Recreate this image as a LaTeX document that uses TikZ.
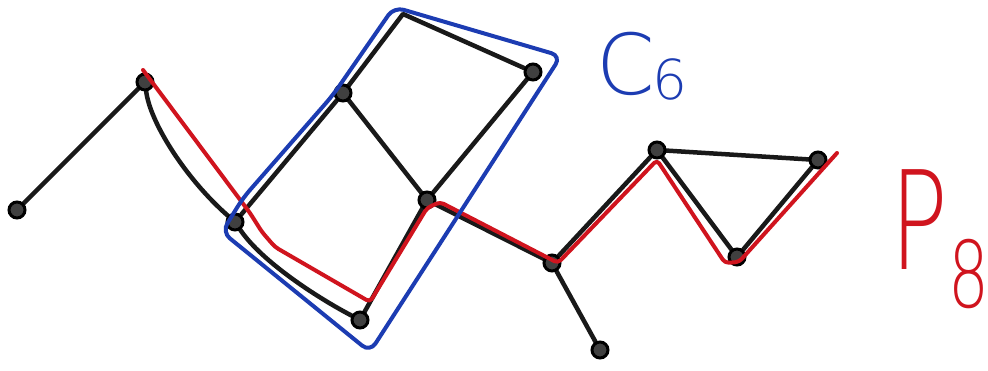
\documentclass[tikz,border=0pt]{standalone}
\usepackage{fontspec}
\usepackage{graphicx}
\IfFontExistsTF{DejaVu Sans ExtraLight}{\newfontfamily\hand{DejaVu Sans ExtraLight}}{\newfontfamily\hand{DejaVu Sans}}
\usetikzlibrary{calc}
\pgfdeclarelayer{bg}
\pgfsetlayers{bg,main}
\definecolor{pred}{HTML}{D0141E}
\definecolor{cblue}{HTML}{1C3CB2}
\begin{document}
\begin{tikzpicture}[x=1pt,y=-1pt,
  edge/.style={line width=4.5pt, black!90, line cap=round, line join=round},
  vtx/.style={circle, draw=black, line width=3pt, fill=black!75, minimum size=16pt, inner sep=0pt},
  redpath/.style={line width=4pt, pred, line cap=round, line join=round, rounded corners=4pt},
  bluebox/.style={line width=4pt, cblue, rounded corners=10pt, line join=round},
  lbl/.style={inner sep=0pt, anchor=base west}]
\useasboundingbox (0,0) rectangle (988,371);
\node[vtx] (A) at (17,210) {};
\node[vtx] (B) at (145,82) {};
\node[vtx] (C) at (235,222) {};
\node[vtx] (D) at (343,93) {};
\coordinate (T) at (403,14);
\node[vtx] (E) at (533,72) {};
\node[vtx] (F) at (427,200) {};
\node[vtx] (G) at (360,320) {};
\node[vtx] (H) at (552,263) {};
\node[vtx] (I) at (600,350) {};
\node[vtx] (J) at (657,150) {};
\node[vtx] (K) at (818,160) {};
\node[vtx] (L) at (737,257) {};
\begin{pgfonlayer}{bg}
\draw[edge] (A) -- (B);
\draw[edge] (B) .. controls (150,122) and (185,178) .. (C);
\draw[edge] (C) -- (D);
\draw[edge] (D) -- (T) -- (E);
\draw[edge] (E) -- (F);
\draw[edge] (D) -- (F);
\draw[edge] (F) -- (G);
\draw[edge] (C) .. controls (262,262) and (318,298) .. (G);
\draw[edge] (F) -- (H);
\draw[edge] (H) -- (I);
\draw[edge] (H) -- (J);
\draw[edge] (J) -- (K);
\draw[edge] (J) -- (L);
\draw[edge] (L) -- (K);
\end{pgfonlayer}
% red path P8
\draw[redpath] ($(B)+(-2,-12)$) -- ($(C)+(15,-9)$) -- ($(C)+(27,10)$) -- ($(C)+(40,25)$)
  -- ($(G)+(10,-18)$) -- ($(F)+(0,8)$) -- ($(F)+(13,2)$) -- ($(H)+(6,0)$)
  -- ($(J)+(0,10)$) -- ($(L)+(-12,6)$) -- ($(L)+(2,5)$) -- ($(K)+(19,-7)$);
% blue C6 outline
\draw[bluebox] (394,7) -- (561,56) -- (370,352) -- (222,232) -- (243,198) -- (333,95) -- cycle;
% labels
\node[lbl, cblue, font=\hand\fontsize{84}{84}\selectfont] (c6a) at (596,95) {C};
\node[lbl, cblue, font=\hand\fontsize{55}{55}\selectfont] (c6b) at (652,100) {6};
\node[lbl, pred, font=\hand\fontsize{137}{137}\selectfont] (p8a) at (890,270) {\scalebox{0.7}[1]{P}};
\node[lbl, pred, font=\hand\fontsize{92}{92}\selectfont] (p8b) at (948,308) {\scalebox{0.7}[1]{8}};
\end{tikzpicture}
\end{document}
